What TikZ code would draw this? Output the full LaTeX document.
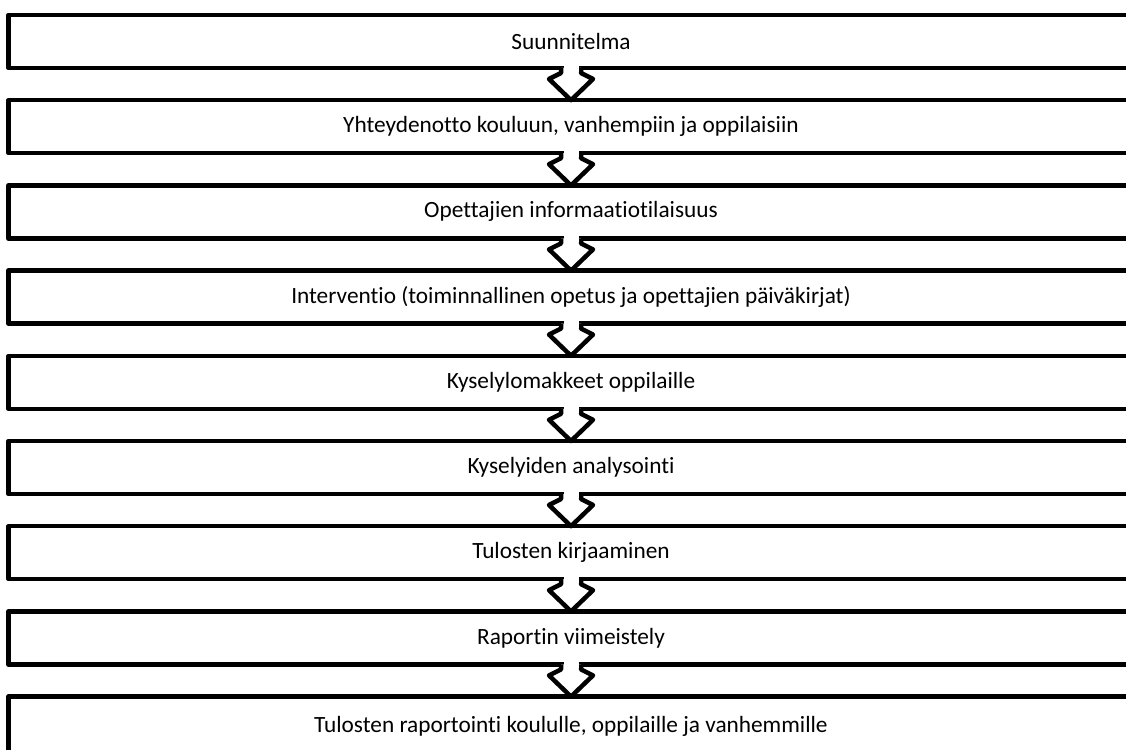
\documentclass[tikz,border=0pt]{standalone}
\usepackage{fontspec}
\setmainfont{Carlito}[Ligatures=NoCommon]
\usetikzlibrary{positioning}

\tikzset{
  phase/.style={rectangle, draw, line width=4.5pt, line join=round, fill=white,
    minimum width=1125pt, minimum height=53pt, inner sep=0pt, outer sep=0pt,
    font=\fontsize{23.3}{27}\selectfont},
  flow/.style={draw, fill=white, line width=4.5pt, line join=round}
}

\begin{document}
\begin{tikzpicture}[x=1pt, y=1pt]
    \useasboundingbox (0,0) rectangle (1126,-749);
    \clip (0,0) rectangle (1126,-749);

    % vaiheet
    \node[phase] (s1) at (571, -41.5) {Suunnitelma};
    \node[phase, below=32.2pt of s1] (s2) {Yhteydenotto kouluun, vanhempiin ja oppilaisiin};
    \node[phase, below=32.2pt of s2] (s3) {Opettajien informaatiotilaisuus};
    \node[phase, below=32.2pt of s3] (s4) {Interventio (toiminnallinen opetus ja opettajien päiväkirjat)};
    \node[phase, below=32.2pt of s4] (s5) {Kyselylomakkeet oppilaille};
    \node[phase, below=32.2pt of s5] (s6) {Kyselyiden analysointi};
    \node[phase, below=32.2pt of s6] (s7) {Tulosten kirjaaminen};
    \node[phase, below=32.2pt of s7] (s8) {Raportin viimeistely};
    \node[phase, minimum height=59pt, below=32.2pt of s8] (s9) {Tulosten raportointi koululle, oppilaille ja vanhemmille};

    % nuolet
    \foreach \a/\b in {s1/s2, s2/s3, s3/s4, s4/s5, s5/s6, s6/s7, s7/s8, s8/s9} {
      \path[flow] ([xshift=-10pt]\a.south) -- ++(0,-5) -- ++(-12,-6) -- (\b.north)
        -- ([xshift=22pt, yshift=-11pt]\a.south) -- ++(-12,6) -- ++(0,5);
      \fill[white] ([xshift=-7.5pt, yshift=3pt]\a.south) rectangle ([xshift=7.5pt, yshift=-4pt]\a.south);
    }
\end{tikzpicture}
\end{document}
